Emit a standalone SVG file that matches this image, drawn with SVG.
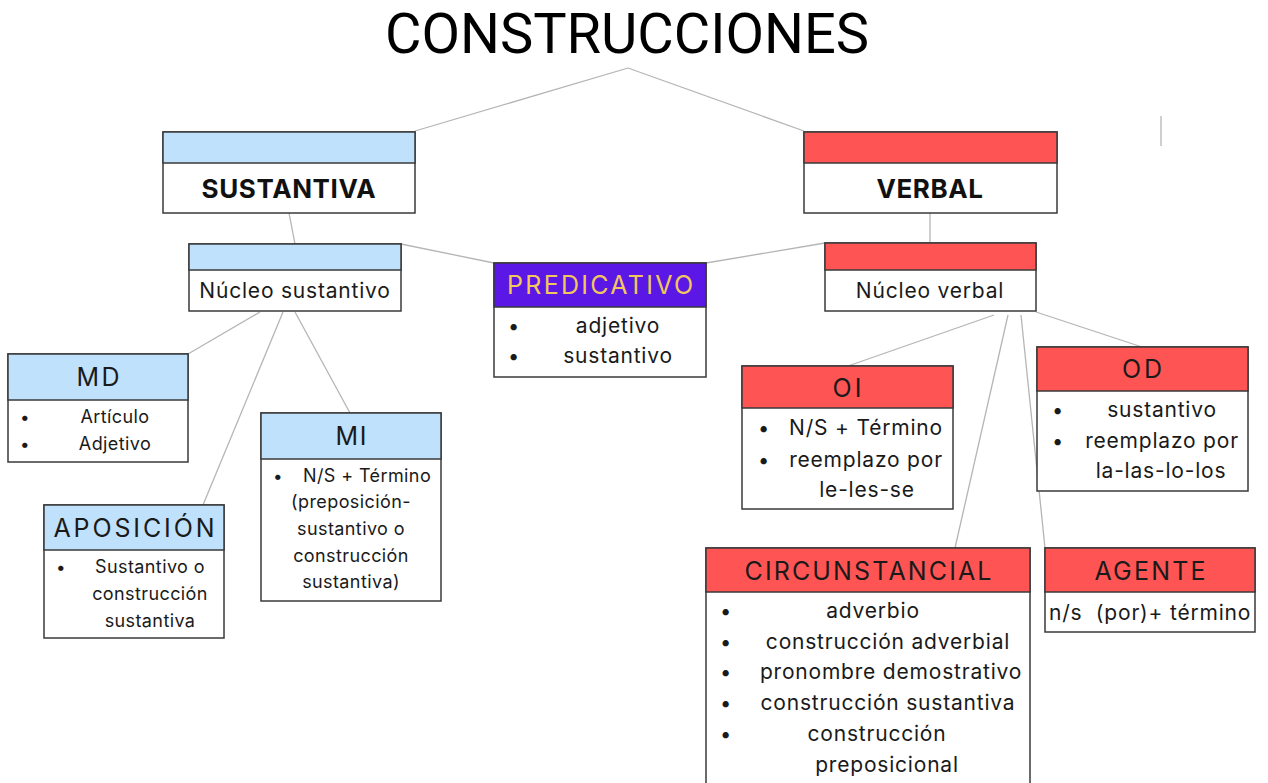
<svg xmlns="http://www.w3.org/2000/svg" width="1268" height="783" viewBox="0 0 1268 783">
<style>
.box{fill:#fff;stroke:#3a3a3a;stroke-width:1.5}
.hb{fill:#bfe1fb;stroke:#3a3a3a;stroke-width:1.5}
.hr{fill:#ff5454;stroke:#3a3a3a;stroke-width:1.5}
.hp{fill:#5a17e6;stroke:#3a3a3a;stroke-width:1.5}
.con line{stroke:#b5b5b5;stroke-width:1.3}
text{font-family:Inter,"Noto Sans","Liberation Sans",sans-serif;fill:#1a1a1a}
.t{font-size:56px;text-anchor:middle;font-family:Roboto,Inter,sans-serif;fill:#000}
.big{font-size:26px;font-weight:700;text-anchor:middle;fill:#111;letter-spacing:0.6px}
.h{font-size:25px;text-anchor:middle}
.m{font-size:21px;text-anchor:middle;letter-spacing:0.8px}
.s{font-size:18px;text-anchor:middle;letter-spacing:0.4px}
.b{font-size:20px}
.bs{font-size:17px}
</style>
<text class="t" x="627" y="53">CONSTRUCCIONES</text>
<g class="con">
<line x1="628" y1="68" x2="415" y2="131"/>
<line x1="628" y1="68" x2="804" y2="131"/>
<line x1="289" y1="213" x2="295" y2="244"/>
<line x1="930" y1="213" x2="930" y2="243"/>
<line x1="401" y1="244" x2="494" y2="263"/>
<line x1="825" y1="243" x2="706" y2="263"/>
<line x1="260" y1="312" x2="188" y2="354"/>
<line x1="283" y1="312" x2="203" y2="505"/>
<line x1="295" y1="312" x2="350" y2="413"/>
<line x1="994" y1="315" x2="848" y2="366"/>
<line x1="1036" y1="312" x2="1142" y2="347"/>
<line x1="1008" y1="315" x2="955" y2="548"/>
<line x1="1021" y1="315" x2="1045" y2="548"/>
<line x1="1161" y1="116" x2="1161" y2="146"/>
</g>
<g id="sustantiva">
<rect class="box" x="163" y="132" width="252" height="81"/>
<rect class="hb" x="163" y="132" width="252" height="31"/>
<text class="big" x="289" y="198">SUSTANTIVA</text>
</g>
<g id="verbal">
<rect class="box" x="804" y="132" width="253" height="81"/>
<rect class="hr" x="804" y="132" width="253" height="31"/>
<text class="big" x="930" y="198">VERBAL</text>
</g>
<g id="nucleo-sustantivo">
<rect class="box" x="189" y="244" width="212" height="67"/>
<rect class="hb" x="189" y="244" width="212" height="26"/>
<text class="m" x="295" y="298">Núcleo sustantivo</text>
</g>
<g id="nucleo-verbal">
<rect class="box" x="825" y="243" width="211" height="68"/>
<rect class="hr" x="825" y="243" width="211" height="27"/>
<text class="m" x="930" y="298">Núcleo verbal</text>
</g>
<g id="predicativo">
<rect class="box" x="494" y="263" width="212" height="114"/>
<rect class="hp" x="494" y="263" width="212" height="44"/>
<text class="h" x="600" y="294" textLength="186" lengthAdjust="spacing" style="fill:#f2c75c">PREDICATIVO</text>
<text class="b" x="508" y="333">•</text><text class="m" x="618" y="333">adjetivo</text>
<text class="b" x="508" y="363">•</text><text class="m" x="618" y="363">sustantivo</text>
</g>
<g id="md">
<rect class="box" x="8" y="354" width="180" height="108"/>
<rect class="hb" x="8" y="354" width="180" height="46"/>
<text class="h" x="98" y="386" textLength="43" lengthAdjust="spacing">MD</text>
<text class="bs" x="20" y="423">•</text><text class="s" x="115" y="423">Artículo</text>
<text class="bs" x="20" y="450">•</text><text class="s" x="115" y="450">Adjetivo</text>
</g>
<g id="mi">
<rect class="box" x="261" y="413" width="180" height="188"/>
<rect class="hb" x="261" y="413" width="180" height="46"/>
<text class="h" x="351" y="445" textLength="31" lengthAdjust="spacing">MI</text>
<text class="bs" x="273" y="482">•</text><text class="s" x="367" y="482">N/S + Término</text>
<text class="s" x="351" y="508">(preposición-</text>
<text class="s" x="351" y="535">sustantivo o</text>
<text class="s" x="351" y="562">construcción</text>
<text class="s" x="351" y="588">sustantiva)</text>
</g>
<g id="aposicion">
<rect class="box" x="44" y="505" width="180" height="133"/>
<rect class="hb" x="44" y="505" width="180" height="45"/>
<text class="h" x="134" y="537" textLength="161" lengthAdjust="spacing">APOSICIÓN</text>
<text class="bs" x="56" y="573">•</text><text class="s" x="150" y="573">Sustantivo o</text>
<text class="s" x="150" y="600">construcción</text>
<text class="s" x="150" y="627">sustantiva</text>
</g>
<g id="oi">
<rect class="box" x="742" y="366" width="211" height="143"/>
<rect class="hr" x="742" y="366" width="211" height="42"/>
<text class="h" x="847" y="397" textLength="29" lengthAdjust="spacing">OI</text>
<text class="b" x="758" y="435">•</text><text class="m" x="866" y="435">N/S + Término</text>
<text class="b" x="758" y="467">•</text><text class="m" x="866" y="467">reemplazo por</text>
<text class="m" x="867" y="497">le-les-se</text>
</g>
<g id="od">
<rect class="box" x="1037" y="347" width="211" height="144"/>
<rect class="hr" x="1037" y="347" width="211" height="44"/>
<text class="h" x="1142" y="378" textLength="40" lengthAdjust="spacing">OD</text>
<text class="b" x="1052" y="417">•</text><text class="m" x="1162" y="417">sustantivo</text>
<text class="b" x="1052" y="448">•</text><text class="m" x="1162" y="448">reemplazo por</text>
<text class="m" x="1161" y="478">la-las-lo-los</text>
</g>
<g id="circunstancial">
<rect class="box" x="706" y="548" width="324" height="250"/>
<rect class="hr" x="706" y="548" width="324" height="44"/>
<text class="h" x="868" y="580" textLength="247" lengthAdjust="spacing">CIRCUNSTANCIAL</text>
<text class="b" x="720" y="618">•</text><text class="m" x="873" y="618">adverbio</text>
<text class="b" x="720" y="649">•</text><text class="m" x="888" y="649">construcción adverbial</text>
<text class="b" x="720" y="679">•</text><text class="m" x="891" y="679">pronombre demostrativo</text>
<text class="b" x="720" y="710">•</text><text class="m" x="888" y="710">construcción sustantiva</text>
<text class="b" x="720" y="741">•</text><text class="m" x="877" y="741">construcción</text>
<text class="m" x="887" y="772">preposicional</text>
</g>
<g id="agente">
<rect class="box" x="1045" y="548" width="210" height="84"/>
<rect class="hr" x="1045" y="548" width="210" height="44"/>
<text class="h" x="1150" y="580" textLength="111" lengthAdjust="spacing">AGENTE</text>
<text x="1049" y="620" xml:space="preserve" style="font-size:21px;letter-spacing:0.8px">n/s  (por)+ término</text>
</g>
</svg>
